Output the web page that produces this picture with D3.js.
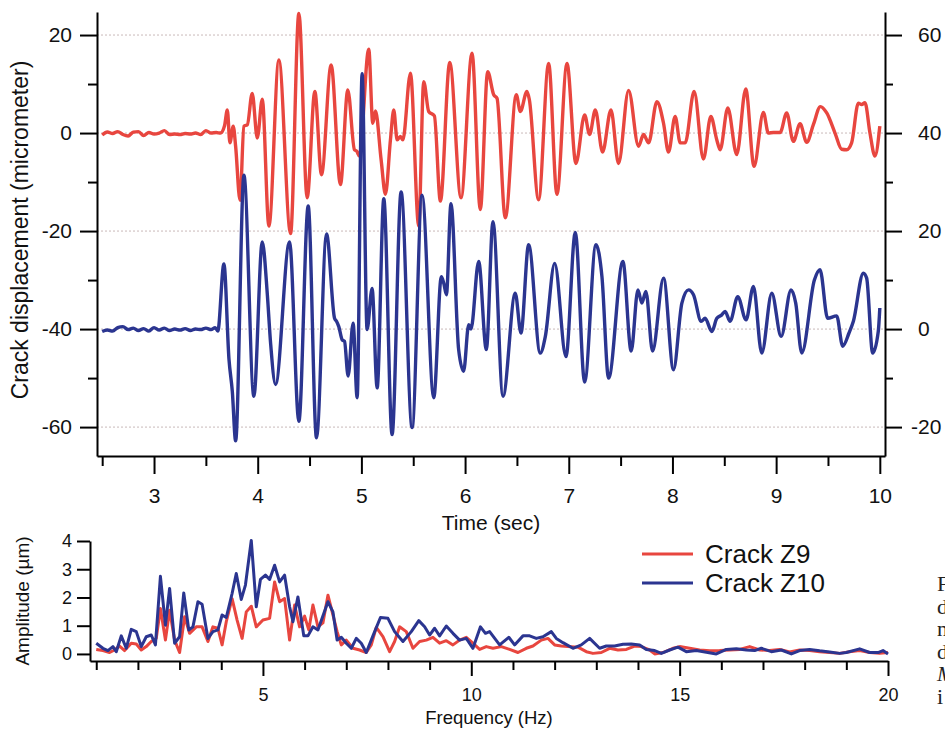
<!DOCTYPE html>
<html><head><meta charset="utf-8">
<script src="https://cdn.jsdelivr.net/npm/d3@7"></script>
<style>
body{margin:0;background:#fff;overflow:hidden}
svg{display:block}
text{font-family:"Liberation Sans",Arial,Helvetica,sans-serif;fill:#111}
text.serif{font-family:"Liberation Serif","DejaVu Serif",serif;fill:#222}
</style>
</head><body>
<svg id="c" width="945" height="731"></svg>
<script>
// ---------- data ----------
// Crack Z9 displacement (left axis, micrometer) : [time s, value]
const crackZ9 = [[2.50,-0.4],[2.55,0.2],[2.60,-0.1],[2.65,0.3],[2.70,-0.3],[2.75,-0.6],[2.80,0.2],[2.85,0.3],[2.90,-0.5],[2.95,0.1],[3.00,-0.2],[3.05,0.0],[3.10,0.5],[3.15,-0.3],[3.20,-0.2],[3.25,-0.3],[3.30,-0.1],[3.35,-0.2],[3.40,0.0],[3.45,-0.3],[3.50,0.5],[3.55,0.0],[3.60,0.1],[3.64,0.0],[3.68,1.5],[3.707,4.7],[3.732,-2.0],[3.764,1.4],[3.787,-2.7],[3.829,-13.7],[3.867,1.4],[3.90,1.7],[3.947,8.1],[3.996,-1.0],[4.044,6.9],[4.108,-19.0],[4.204,14.9],[4.317,-20.5],[4.397,24.4],[4.477,-13.2],[4.551,8.5],[4.615,-8.5],[4.708,13.9],[4.798,-10.5],[4.869,8.8],[4.933,-3.4],[4.955,-3.7],[4.981,-4.7],[5.071,17.1],[5.110,2.0],[5.136,4.5],[5.19,-5.4],[5.232,-12.5],[5.280,-1.4],[5.312,4.7],[5.345,-1.4],[5.376,-0.7],[5.40,-1.4],[5.473,12.2],[5.553,-19.0],[5.601,10.5],[5.649,4.4],[5.704,3.5],[5.762,-13.9],[5.852,14.4],[5.961,-13.2],[6.067,16.3],[6.147,-15.6],[6.218,12.5],[6.276,7.8],[6.308,7.1],[6.388,-17.3],[6.494,7.8],[6.533,4.4],[6.597,8.5],[6.62,6.8],[6.709,-13.6],[6.806,14.2],[6.886,-12.5],[6.983,14.2],[7.069,-6.2],[7.153,3.7],[7.201,-0.3],[7.256,4.7],[7.326,-3.9],[7.407,4.7],[7.480,-6.2],[7.577,8.7],[7.673,-2.7],[7.721,-0.3],[7.770,-2.0],[7.850,6.4],[7.914,2.0],[7.962,-3.9],[8.026,3.4],[8.075,-2.0],[8.123,-2.0],[8.209,8.5],[8.299,-5.3],[8.370,3.4],[8.428,-1.4],[8.460,-3.4],[8.534,5.1],[8.620,-4.4],[8.707,9.0],[8.787,-6.8],[8.877,4.2],[8.925,0.0],[8.974,0.1],[9.038,0.1],[9.102,4.1],[9.166,-1.7],[9.231,1.9],[9.295,-1.9],[9.359,1.7],[9.427,5.4],[9.488,4.1],[9.568,0.0],[9.632,-3.3],[9.680,-3.4],[9.728,-2.0],[9.793,6.1],[9.825,5.8],[9.857,6.2],[9.905,0.0],[9.953,-4.7],[10.0,1.4]];

// Crack Z10 displacement (right axis, micrometer) : [time s, value]
const crackZ10 = [[2.50,-0.5],[2.55,-0.2],[2.60,-0.4],[2.65,0.3],[2.70,0.5],[2.75,-0.1],[2.80,0.2],[2.85,-0.3],[2.90,0.1],[2.95,-0.4],[3.00,0.3],[3.05,-0.2],[3.10,0.2],[3.15,-0.3],[3.20,0.0],[3.25,-0.2],[3.30,0.1],[3.35,-0.3],[3.40,0.0],[3.45,-0.1],[3.50,0.2],[3.55,-0.1],[3.59,0.3],[3.615,-0.4],[3.674,13.3],[3.723,-6.2],[3.755,-12.7],[3.787,-22.8],[3.867,31.4],[3.963,-13.7],[4.044,17.8],[4.092,7.3],[4.124,-2.8],[4.172,-11.3],[4.307,17.8],[4.397,-18.8],[4.487,25.1],[4.567,-22.2],[4.664,19.4],[4.741,2.2],[4.760,1.6],[4.782,0.5],[4.815,-2.2],[4.837,-2.5],[4.872,-9.6],[4.920,1.2],[4.959,-14.0],[5.007,52.1],[5.055,-0.1],[5.103,8.3],[5.152,-12.0],[5.216,26.6],[5.296,-21.5],[5.383,28.0],[5.489,-20.1],[5.585,27.3],[5.698,-14.0],[5.771,10.7],[5.794,9.4],[5.820,7.0],[5.864,25.6],[5.938,-4.2],[5.986,-8.6],[6.035,0.9],[6.057,0.0],[6.131,13.8],[6.205,-4.2],[6.269,21.9],[6.366,-13.7],[6.484,7.3],[6.539,-0.8],[6.613,17.2],[6.725,-4.9],[6.774,-1.5],[6.864,13.4],[6.973,-5.6],[7.063,19.7],[7.153,-10.8],[7.262,17.2],[7.320,10.7],[7.384,-10.0],[7.522,13.8],[7.602,-4.5],[7.667,8.0],[7.705,5.3],[7.744,7.7],[7.808,-4.5],[7.914,10.4],[8.010,-8.3],[8.091,5.3],[8.155,8.0],[8.203,7.0],[8.277,1.6],[8.315,2.2],[8.380,-0.5],[8.428,2.2],[8.476,2.9],[8.508,3.6],[8.556,1.6],[8.630,6.6],[8.710,1.9],[8.781,8.7],[8.861,-4.9],[8.958,7.3],[9.048,-1.5],[9.144,8.0],[9.189,5.3],[9.247,-4.9],[9.369,10.0],[9.423,12.1],[9.497,2.2],[9.584,2.7],[9.642,-3.5],[9.703,-0.8],[9.745,1.6],[9.841,11.4],[9.873,10.4],[9.931,-4.9],[9.985,-0.5],[10.0,4.3]];

// Fourier amplitude spectra (micrometer) : [frequency Hz, amplitude]
const spectrumZ9 = [[1.00,0.16],[1.16,0.12],[1.32,0.05],[1.44,0.14],[1.56,0.28],[1.68,0.12],[1.84,0.38],[1.96,0.35],[2.08,0.14],[2.20,0.26],[2.32,0.44],[2.44,0.55],[2.54,1.61],[2.66,0.49],[2.76,1.55],[2.88,0.49],[3.00,0.05],[3.12,1.32],[3.24,0.73],[3.40,0.96],[3.54,0.96],[3.68,0.44],[3.80,0.96],[3.92,0.91],[4.02,0.32],[4.12,1.14],[4.26,1.96],[4.38,1.20],[4.50,0.55],[4.60,1.49],[4.72,1.69],[4.84,0.96],[5.00,1.20],[5.16,1.26],[5.28,2.55],[5.40,1.85],[5.52,1.96],[5.64,0.49],[5.76,1.73],[5.88,0.96],[6.00,1.34],[6.10,0.85],[6.20,1.73],[6.32,0.96],[6.44,1.10],[6.56,2.08],[6.68,1.38],[6.78,0.79],[6.88,0.32],[7.00,0.49],[7.16,0.20],[7.32,0.14],[7.48,0.05],[7.60,0.32],[7.72,0.94],[7.88,0.61],[8.04,0.08],[8.16,0.44],[8.28,0.96],[8.44,0.79],[8.60,0.20],[8.76,0.44],[8.92,0.49],[9.08,0.59],[9.24,0.38],[9.40,0.47],[9.56,0.32],[9.72,0.49],[9.88,0.59],[10.04,0.38],[10.20,0.16],[10.36,0.26],[10.52,0.20],[10.72,0.26],[10.92,0.16],[11.12,0.05],[11.32,0.20],[11.48,0.28],[11.68,0.49],[11.84,0.55],[12.00,0.32],[12.16,0.28],[12.32,0.26],[12.56,0.24],[12.76,0.08],[12.92,0.02],[13.12,0.05],[13.32,0.20],[13.52,0.14],[13.72,0.16],[13.92,0.28],[14.08,0.26],[14.28,0.14],[14.40,0.00],[14.60,0.05],[14.84,0.20],[15.00,0.26],[15.24,0.20],[15.48,0.14],[15.72,0.11],[15.96,0.12],[16.20,0.14],[16.44,0.16],[16.68,0.26],[16.92,0.14],[17.16,0.12],[17.40,0.16],[17.64,0.07],[17.88,0.14],[18.12,0.12],[18.36,0.08],[18.60,0.05],[18.84,0.02],[19.08,0.08],[19.32,0.12],[19.56,0.05],[19.80,0.02],[20.00,0.05]];

const spectrumZ10 = [[1.00,0.38],[1.16,0.20],[1.28,0.12],[1.40,0.26],[1.48,0.08],[1.60,0.64],[1.72,0.20],[1.84,0.87],[1.96,0.79],[2.08,0.26],[2.20,0.61],[2.32,0.67],[2.42,0.32],[2.54,2.75],[2.66,1.02],[2.76,2.32],[2.88,0.38],[3.00,0.61],[3.10,2.16],[3.22,0.85],[3.32,0.96],[3.44,1.85],[3.54,1.76],[3.68,0.55],[3.80,0.79],[3.92,0.85],[4.02,1.38],[4.12,1.29],[4.26,2.14],[4.36,2.85],[4.48,1.93],[4.58,2.44],[4.72,4.02],[4.84,1.67],[4.94,2.64],[5.06,2.79],[5.16,2.64],[5.28,3.14],[5.40,2.55],[5.52,2.79],[5.64,1.67],[5.72,1.14],[5.84,2.02],[5.98,0.64],[6.08,0.64],[6.20,0.96],[6.32,0.85],[6.56,1.85],[6.68,1.49],[6.78,0.49],[6.88,0.59],[7.00,0.38],[7.12,0.20],[7.24,0.55],[7.36,0.38],[7.48,0.05],[7.64,0.64],[7.82,1.29],[8.00,1.26],[8.16,0.79],[8.36,0.44],[8.56,0.79],[8.74,1.18],[8.88,0.96],[9.00,0.67],[9.12,0.91],[9.24,0.64],[9.40,0.99],[9.56,0.73],[9.72,0.49],[9.88,0.55],[10.04,0.20],[10.22,0.96],[10.34,0.73],[10.44,0.79],[10.68,0.32],[10.90,0.59],[11.04,0.32],[11.24,0.64],[11.40,0.64],[11.56,0.55],[11.72,0.61],[11.92,0.79],[12.04,0.55],[12.20,0.40],[12.44,0.20],[12.64,0.32],[12.84,0.55],[13.08,0.20],[13.24,0.28],[13.44,0.28],[13.64,0.34],[13.84,0.35],[14.04,0.32],[14.20,0.16],[14.40,0.12],[14.56,0.02],[14.76,0.14],[14.96,0.24],[15.16,0.08],[15.40,0.12],[15.64,0.06],[15.88,0.00],[16.12,0.16],[16.36,0.18],[16.60,0.14],[16.80,0.12],[16.96,0.20],[17.20,0.08],[17.44,0.14],[17.68,0.00],[17.88,0.12],[18.12,0.16],[18.36,0.11],[18.60,0.07],[18.84,0.02],[19.00,0.05],[19.32,0.18],[19.56,0.05],[19.76,0.05],[19.88,0.12],[20.00,0.00]];

// ticks / labels
const leftTicks = [-60,-40,-20,0,20];
const leftMinor = [-50,-30,-10,10];
const rightTicks = [-20,0,20,40,60];
const rightMinor = [-10,10,30,50];
const timeTicks = [3,4,5,6,7,8,9,10];
const timeMinor = [2.5,3.5,4.5,5.5,6.5,7.5,8.5,9.5];
const freqTicks = [5,10,15,20];
const freqMinor = [1,2,3,4,6,7,8,9,11,12,13,14,16,17,18,19];
const ampTicks = [0,1,2,3,4];
const seriesNames = ["Crack Z9","Crack Z10"];
const seriesColors = ["#e8463f","#2b3590"];
const captionFragment = ["F","d","n","d","M","i"];

// ---------- drawing ----------
const svg = d3.select("#c");
const FONT = '"Liberation Sans",Arial,Helvetica,sans-serif';
const fmt = d => String(d);   // plain hyphen-minus like the original

// top panel scales
const xT = d3.scaleLinear().domain([2.45,10.05]).range([97,885]);
const yL = d3.scaleLinear().domain([-65.9,24.7]).range([456,12]);
const yR = d3.scaleLinear().domain([-25.9,64.7]).range([456,12]);

// grid
svg.append("g").selectAll("line").data(leftTicks).join("line")
  .attr("x1",xT.range()[0]).attr("x2",xT.range()[1])
  .attr("y1",d=>yL(d)).attr("y2",d=>yL(d))
  .attr("stroke","#c9b9b9").attr("stroke-width",1).attr("stroke-dasharray","2,2");

function styleAxis(g){
  g.selectAll("path.domain").attr("stroke","#000").attr("stroke-width",2);
  g.selectAll(".tick line").attr("stroke","#000").attr("stroke-width",2);
  g.selectAll("text").attr("font-family",FONT).attr("fill","#111");
}

// left axis
const gL = svg.append("g").attr("transform",`translate(${xT.range()[0]},0)`);
gL.call(d3.axisLeft(yL).tickValues(leftTicks).tickSize(17).tickSizeOuter(0).tickPadding(8).tickFormat(fmt));
gL.selectAll("text").attr("font-size",21);
styleAxis(gL);
const gLm = svg.append("g").attr("transform",`translate(${xT.range()[0]},0)`);
gLm.call(d3.axisLeft(yL).tickValues(leftMinor).tickSize(9).tickFormat(""));
gLm.select("path.domain").remove(); styleAxis(gLm);

// right axis
const gR = svg.append("g").attr("transform",`translate(${xT.range()[1]},0)`);
gR.call(d3.axisRight(yR).tickValues(rightTicks).tickSize(17).tickSizeOuter(0).tickPadding(16).tickFormat(fmt));
gR.selectAll("text").attr("font-size",21);
gR.selectAll(".tick text").attr("dx",d=>d<0?-7:0);
styleAxis(gR);
const gRm = svg.append("g").attr("transform",`translate(${xT.range()[1]},0)`);
gRm.call(d3.axisRight(yR).tickValues(rightMinor).tickSize(8).tickFormat(""));
gRm.select("path.domain").remove(); styleAxis(gRm);

// bottom axis (top panel)
const gB = svg.append("g").attr("transform",`translate(0,${yL.range()[0]})`);
gB.call(d3.axisBottom(xT).tickValues(timeTicks).tickSize(18).tickSizeOuter(0).tickPadding(14).tickFormat(fmt));
gB.selectAll("text").attr("font-size",21);
styleAxis(gB);
const gBm = svg.append("g").attr("transform",`translate(0,${yL.range()[0]})`);
gBm.call(d3.axisBottom(xT).tickValues(timeMinor).tickSize(10).tickFormat(""));
gBm.select("path.domain").remove(); styleAxis(gBm);

// series lines (top)
const lineL = d3.line().x(d=>xT(d[0])).y(d=>yL(d[1])).curve(d3.curveMonotoneX);
const lineR = d3.line().x(d=>xT(d[0])).y(d=>yR(d[1])).curve(d3.curveMonotoneX);
svg.append("path").datum(crackZ9).attr("d",lineL).attr("fill","none")
  .attr("stroke",seriesColors[0]).attr("stroke-width",3.4).attr("stroke-linejoin","round");
svg.append("path").datum(crackZ10).attr("d",lineR).attr("fill","none")
  .attr("stroke",seriesColors[1]).attr("stroke-width",3.4).attr("stroke-linejoin","round");

// titles (top)
svg.append("text").attr("transform","translate(28,230) rotate(-90)").attr("text-anchor","middle")
  .attr("font-size",23).text("Crack displacement (micrometer)");
svg.append("text").attr("x",491).attr("y",530).attr("text-anchor","middle")
  .attr("font-size",21).text("Time (sec)");

// bottom panel
const xF = d3.scaleLinear().domain([0.85,20]).range([90,888]);
const yA = d3.scaleLinear().domain([-0.25,4]).range([661,541]);

const gA = svg.append("g").attr("transform",`translate(${xF.range()[0]},0)`);
gA.call(d3.axisLeft(yA).tickValues(ampTicks).tickSize(13).tickSizeOuter(0).tickPadding(5).tickFormat(fmt));
gA.selectAll("text").attr("font-size",18);
styleAxis(gA);

const gF = svg.append("g").attr("transform",`translate(0,${yA.range()[0]})`);
gF.call(d3.axisBottom(xF).tickValues(freqTicks).tickSize(15).tickSizeOuter(0).tickPadding(12).tickFormat(fmt));
gF.selectAll("text").attr("font-size",18);
styleAxis(gF);
const gFm = svg.append("g").attr("transform",`translate(0,${yA.range()[0]})`);
gFm.call(d3.axisBottom(xF).tickValues(freqMinor).tickSize(9).tickFormat(""));
gFm.select("path.domain").remove(); styleAxis(gFm);

const lineF = d3.line().x(d=>xF(d[0])).y(d=>yA(d[1]));
svg.append("path").datum(spectrumZ9).attr("d",lineF).attr("fill","none")
  .attr("stroke",seriesColors[0]).attr("stroke-width",3).attr("stroke-linejoin","round");
svg.append("path").datum(spectrumZ10).attr("d",lineF).attr("fill","none")
  .attr("stroke",seriesColors[1]).attr("stroke-width",3).attr("stroke-linejoin","round");

svg.append("text").attr("transform","translate(29,601) rotate(-90)").attr("text-anchor","middle")
  .attr("font-size",19).text("Amplitude (\u00B5m)");
svg.append("text").attr("x",489).attr("y",724).attr("text-anchor","middle")
  .attr("font-size",18.5).text("Frequency (Hz)");

// legend
const leg = svg.append("g");
seriesNames.forEach((n,i)=>{
  const y = 554 + i*29;
  leg.append("line").attr("x1",642).attr("x2",693).attr("y1",y).attr("y2",y)
    .attr("stroke",seriesColors[i]).attr("stroke-width",3);
  leg.append("text").attr("x",705).attr("y",y+9).attr("font-size",26).text(n);
});

// cut-off caption text at right edge (part of the page beside the figure)
svg.append("g").selectAll("text").data(captionFragment).join("text")
  .attr("class","serif")
  .attr("x",937).attr("y",(d,i)=>591+i*22.6)
  .style("font-style",(d,i)=>i===4?"italic":"normal")
  .attr("font-size",22).text(d=>d);
</script>
</body></html>
